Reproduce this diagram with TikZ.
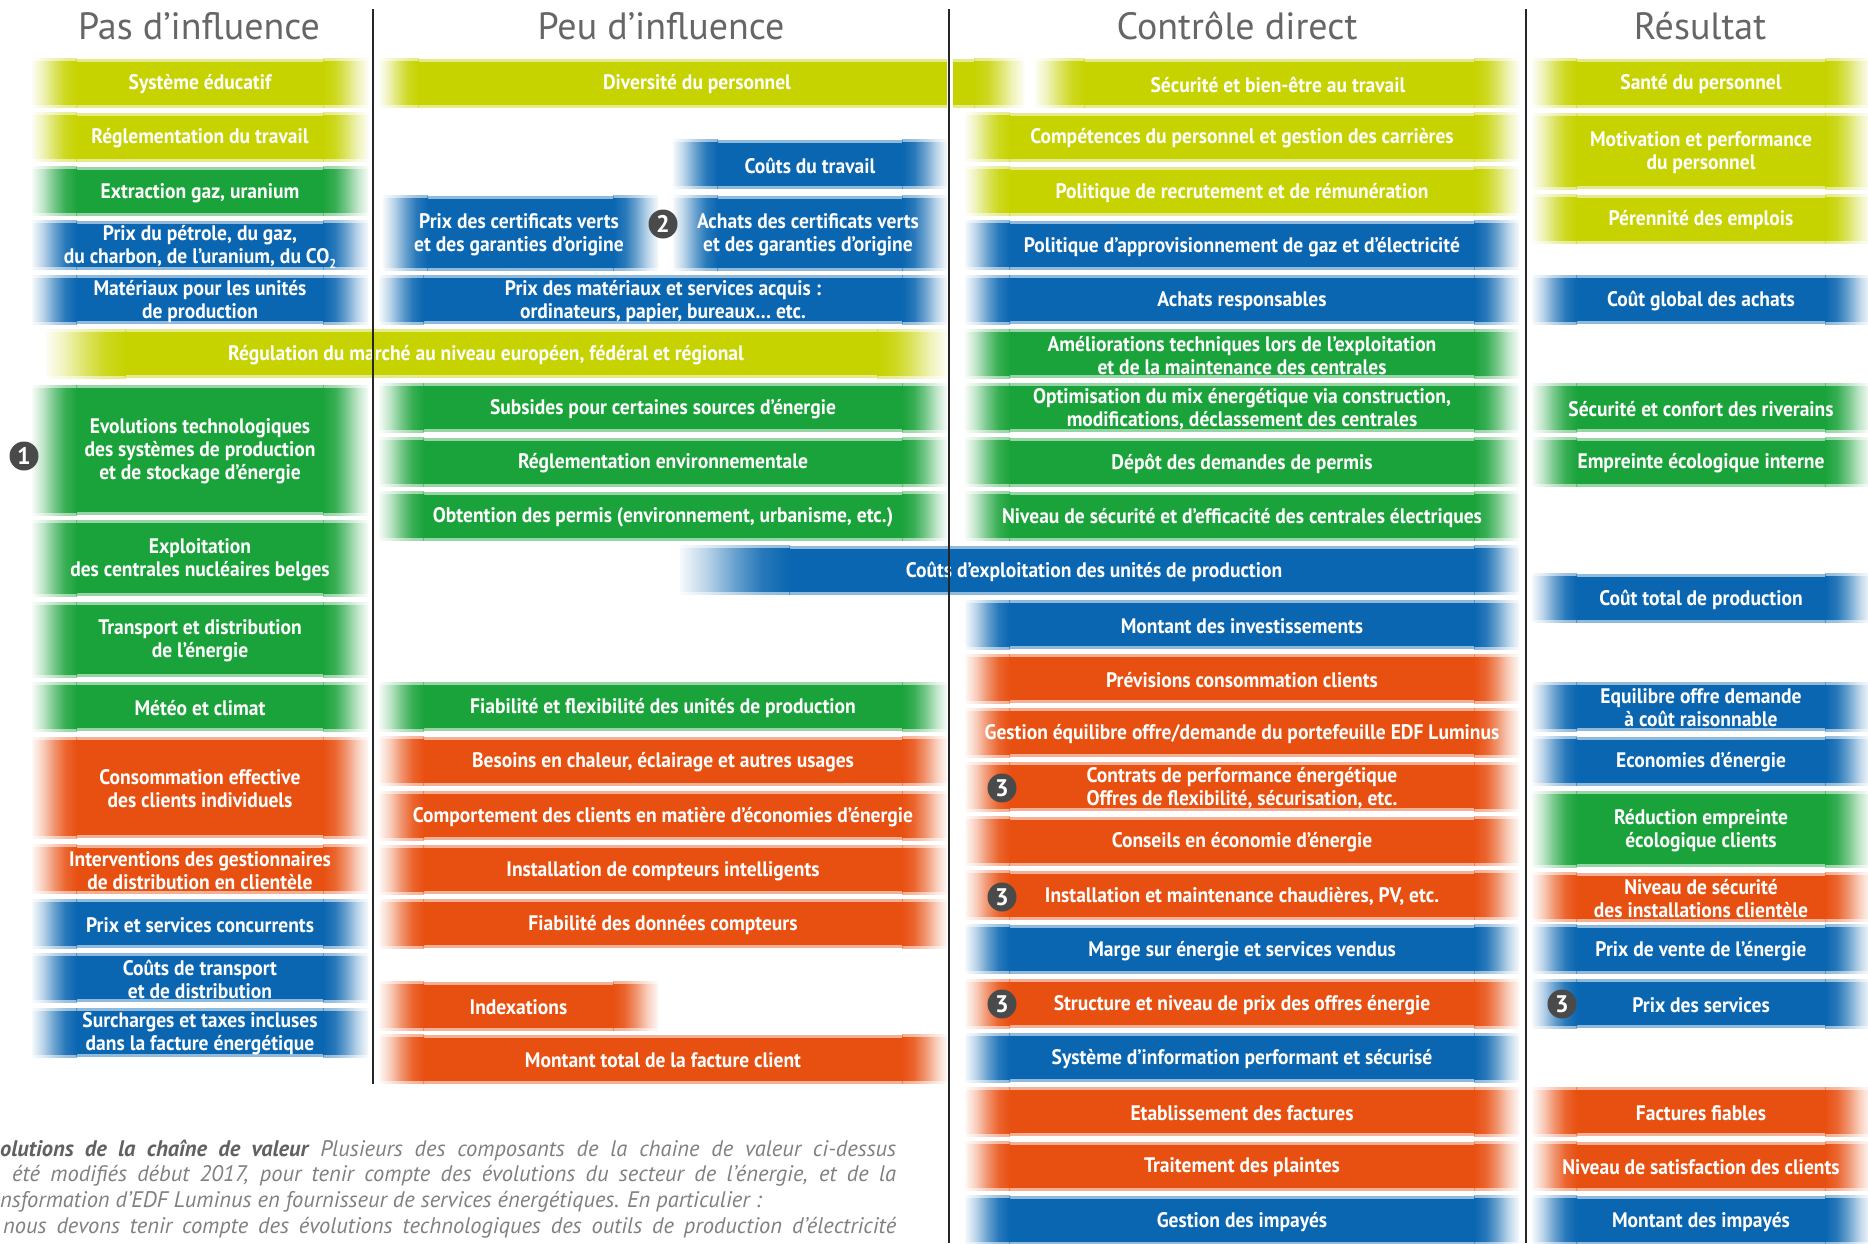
\documentclass[tikz,border=0pt]{standalone}
\usepackage{fontspec}
\setmainfont{PT Sans}
\newfontfamily\barfont[FakeStretch=0.93]{PT Sans}
\newfontfamily\capfont{PT Sans}
\definecolor{yg}{HTML}{C6D300}
\definecolor{grn}{HTML}{1BA33B}
\definecolor{blu}{HTML}{0A66B0}
\definecolor{org}{HTML}{E85012}
\definecolor{bdg}{HTML}{4A4A4A}
\definecolor{hdrc}{HTML}{666666}
\definecolor{capc}{HTML}{808080}
\colorlet{barc}{blu}
\pgfdeclarehorizontalshading[barc]{fadeL}{100bp}{color(0bp)=(barc!4); color(25bp)=(barc!4); color(37bp)=(barc!28); color(50bp)=(barc!62); color(62bp)=(barc!88); color(75bp)=(barc); color(100bp)=(barc)}
\pgfdeclarehorizontalshading[barc]{fadeR}{100bp}{color(0bp)=(barc); color(25bp)=(barc); color(38bp)=(barc!88); color(50bp)=(barc!62); color(63bp)=(barc!28); color(75bp)=(barc!4); color(100bp)=(barc!4)}
\newcommand{\R}[1]{(83+54.15*#1)}
\newcommand{\barpieces}[7]{%
 \colorlet{barc}{#5}%
 \pgfmathsetmacro\xa{#1+#6}\pgfmathsetmacro\xb{#2-#7}%
 \fill[#5] ({\xa-0.6},{#3}) rectangle ({\xb+0.6},{#4});
 \ifdim #6pt>0pt \shade[shading=fadeL] ({#1},{#3}) rectangle ({\xa},{#4});\fi
 \ifdim #7pt>0pt \shade[shading=fadeR] ({\xb},{#3}) rectangle ({#2},{#4});\fi
}
\newcommand{\shbar}[7]{% x1 x2 yc h col fl fr
 \pgfmathsetmacro\ya{#3-#4/2}\pgfmathsetmacro\yb{#3+#4/2}%
 \begin{scope}[opacity=0.45]\barpieces{#1}{#2}{\ya}{\yb}{#5}{#6}{#7}\end{scope}
 \pgfmathsetmacro\yya{#3-#4/2+3}\pgfmathsetmacro\yyb{#3+#4/2-3}%
 \barpieces{#1}{#2}{\yya}{\yyb}{#5}{#6}{#7}
}
\newcommand{\sbar}[6]{% name x1 x2 yc col text
 \shbar{#2}{#3}{#4}{49}{#5}{45}{45}
 \node[lbl] (#1) at ({(#2+#3)/2},{#4}) {#6};}
\tikzset{
 lbl/.style={text=white, font=\barfont\bfseries\fontsize{21}{23}\selectfont, align=center, inner sep=0pt, yshift=-1.5pt},
 hdr/.style={text=hdrc, font=\fontsize{38}{40}\selectfont, inner sep=0pt},
 badge/.style={circle, fill=bdg, text=white, minimum size=29pt, inner sep=0pt, font=\bfseries\fontsize{24}{24}\selectfont},
 captxt/.style={text=capc, font=\capfont\itshape\fontsize{22.5}{24}\selectfont, inner sep=0pt, anchor=west},
 divider/.style={draw=black!85, line width=1.6pt}
}
\begin{document}
\begin{tikzpicture}[x=1pt,y=-1pt]
\useasboundingbox (0,0) rectangle (1868,1243);
\clip (0,0) rectangle (1868,1243);
\fill[white] (0,0) rectangle (1868,1243);
% headers
\node[hdr] (h1) at (199,26) {Pas d’influence};
\node[hdr] (h2) at (661,26) {Peu d’influence};
\node[hdr] (h3) at (1237,26) {Contrôle direct};
\node[hdr] (h4) at (1700,26) {Résultat};
% ---------- column 1
\sbar{a0}{32}{368}{\R{0}}{yg}{Système éducatif}
\sbar{a1}{32}{368}{\R{1}}{yg}{Réglementation du travail}
\sbar{a2}{32}{368}{\R{2}}{grn}{Extraction gaz, uranium}
\sbar{a3}{32}{368}{\R{3}}{blu}{Prix du pétrole, du gaz,\\du charbon, de l’uranium, du CO\raisebox{-0.4ex}{\fontsize{13}{13}\selectfont 2}}
\sbar{a4}{32}{368}{\R{4}}{blu}{Matériaux pour les unités\\de production}
\shbar{46}{947}{\R{5}}{49}{yg}{80}{70}
\node[lbl] (a5) at (486,{\R{5}}) {Régulation du marché au niveau européen, fédéral et régional};
\shbar{32}{368}{450}{130}{grn}{45}{45}
\node[lbl] (a6) at (200,450) {Evolutions technologiques\\des systèmes de production\\et de stockage d’énergie};
\shbar{32}{368}{558}{76}{grn}{45}{45}
\node[lbl] (a7) at (200,558) {Exploitation\\des centrales nucléaires belges};
\shbar{32}{368}{639.5}{75}{grn}{45}{45}
\node[lbl] (a8) at (200,639.5) {Transport et distribution\\de l’énergie};
\sbar{a9}{32}{368}{706.5}{grn}{Météo et climat}
\shbar{32}{368}{787.5}{101}{org}{45}{45}
\node[lbl] (a10) at (200,787.5) {Consommation effective\\des clients individuels};
\sbar{a11}{32}{368}{869}{org}{Interventions des gestionnaires\\de distribution en clientèle}
\sbar{a12}{32}{368}{923.5}{blu}{Prix et services concurrents}
\sbar{a13}{32}{368}{977.5}{blu}{Coûts de transport\\et de distribution}
\sbar{a14}{32}{368}{1032.5}{blu}{Surcharges et taxes incluses\\dans la facture énergétique}
\node[badge] (n1) at (24,456) {1};
% ---------- column 2
\shbar{379}{946}{\R{0}}{49}{yg}{40}{0}
\shbar{954}{1024}{\R{0}}{49}{yg}{0}{50}
\node[lbl] (b0) at (697,{\R{0}}) {Diversité du personnel};
\sbar{b1}{673}{947}{164}{blu}{Coûts du travail}
\shbar{383}{658}{233}{75}{blu}{45}{45}
\node[lbl] (b2) at (519,233) {Prix des certificats verts\\et des garanties d’origine};
\shbar{673}{947}{233}{75}{blu}{45}{45}
\node[lbl] (b3) at (808,233) {Achats des certificats verts\\et des garanties d’origine};
\node[badge] (n2) at (663,224) {2};
\sbar{b4}{379}{947}{\R{4}}{blu}{Prix des matériaux et services acquis :\\ordinateurs, papier, bureaux… etc.}
\sbar{b6}{379}{947}{\R{6}}{grn}{Subsides pour certaines sources d’énergie}
\sbar{b7}{379}{947}{\R{7}}{grn}{Réglementation environnementale}
\sbar{b8}{379}{947}{\R{8}}{grn}{Obtention des permis (environnement, urbanisme, etc.)}
\shbar{680}{1519}{\R{9}}{49}{blu}{110}{45}
\node[lbl] (b9) at (1094,{\R{9}}) {Coûts d’exploitation des unités de production};
\sbar{b10}{379}{947}{706.5}{grn}{Fiabilité et flexibilité des unités de production}
\sbar{b11}{379}{947}{761}{org}{Besoins en chaleur, éclairage et autres usages}
\sbar{b12}{379}{947}{815.5}{org}{Comportement des clients en matière d’économies d’énergie}
\sbar{b13}{379}{947}{869.5}{org}{Installation de compteurs intelligents}
\sbar{b14}{379}{947}{923.5}{org}{Fiabilité des données compteurs}
\sbar{b15}{379}{658}{1006}{org}{Indexations}
\sbar{b16}{379}{947}{1059}{org}{Montant total de la facture client}
% ---------- column 3
\shbar{1035}{1519}{\R{0}}{49}{yg}{50}{45}
\node[lbl] (c0) at (1278,{\R{0}}) {Sécurité et bien-être au travail};
\sbar{c1}{965}{1519}{\R{1}}{yg}{Compétences du personnel et gestion des carrières}
\sbar{c2}{965}{1519}{\R{2}}{yg}{Politique de recrutement et de rémunération}
\sbar{c3}{965}{1519}{\R{3}}{blu}{Politique d’approvisionnement de gaz et d’électricité}
\sbar{c4}{965}{1519}{\R{4}}{blu}{Achats responsables}
\sbar{c5}{965}{1519}{\R{5}}{grn}{Améliorations techniques lors de l’exploitation\\et de la maintenance des centrales}
\sbar{c6}{965}{1519}{\R{6}}{grn}{Optimisation du mix énergétique via construction,\\modifications, déclassement des centrales}
\sbar{c7}{965}{1519}{\R{7}}{grn}{Dépôt des demandes de permis}
\sbar{c8}{965}{1519}{\R{8}}{grn}{Niveau de sécurité et d’efficacité des centrales électriques}
\sbar{c10}{965}{1519}{\R{10}}{blu}{Montant des investissements}
\sbar{c11}{965}{1519}{\R{11}}{org}{Prévisions consommation clients}
\sbar{c12}{965}{1519}{\R{12}}{org}{Gestion équilibre offre/demande du portefeuille EDF Luminus}
\sbar{c13}{965}{1519}{\R{13}}{org}{Contrats de performance énergétique\\Offres de flexibilité, sécurisation, etc.}
\sbar{c14}{965}{1519}{\R{14}}{org}{Conseils en économie d’énergie}
\sbar{c15}{965}{1519}{\R{15}}{org}{Installation et maintenance chaudières, PV, etc.}
\sbar{c16}{965}{1519}{\R{16}}{blu}{Marge sur énergie et services vendus}
\sbar{c17}{965}{1519}{\R{17}}{org}{Structure et niveau de prix des offres énergie}
\sbar{c18}{965}{1519}{\R{18}}{blu}{Système d’information performant et sécurisé}
\sbar{c19}{965}{1519}{\R{19}}{org}{Etablissement des factures}
\sbar{c20}{965}{1519}{\R{20}}{org}{Traitement des plaintes}
\sbar{c21}{965}{1519}{\R{21}}{blu}{Gestion des impayés}
\node[badge] (n3a) at (1002,788) {3};
\node[badge] (n3b) at (1002,897) {3};
\node[badge] (n3c) at (1002,1004) {3};
% ---------- column 4
\sbar{d0}{1532}{1870}{\R{0}}{yg}{Santé du personnel}
\shbar{1532}{1870}{151}{76}{yg}{45}{45}
\node[lbl] (d1) at (1701,151) {Motivation et performance\\du personnel};
\sbar{d2}{1532}{1870}{219}{yg}{Pérennité des emplois}
\sbar{d4}{1532}{1870}{\R{4}}{blu}{Coût global des achats}
\sbar{d6}{1532}{1870}{\R{6}}{grn}{Sécurité et confort des riverains}
\sbar{d7}{1532}{1870}{\R{7}}{grn}{Empreinte écologique interne}
\sbar{d9}{1532}{1870}{598}{blu}{Coût total de production}
\sbar{d10}{1532}{1870}{706.5}{blu}{Equilibre offre demande\\à coût raisonnable}
\sbar{d11}{1532}{1870}{761}{blu}{Economies d’énergie}
\shbar{1532}{1870}{829}{76}{grn}{45}{45}
\node[lbl] (d12) at (1701,829) {Réduction empreinte\\écologique clients};
\sbar{d13}{1532}{1870}{897}{org}{Niveau de sécurité\\des installations clientèle}
\sbar{d14}{1532}{1870}{\R{16}}{blu}{Prix de vente de l’énergie}
\sbar{d15}{1532}{1870}{\R{17}}{blu}{Prix des services}
\sbar{d16}{1532}{1870}{\R{19}}{org}{Factures fiables}
\sbar{d17}{1532}{1870}{\R{20}}{org}{Niveau de satisfaction des clients}
\sbar{d18}{1532}{1870}{\R{21}}{blu}{Montant des impayés}
\node[badge] (n3d) at (1562,1004) {3};
% ---------- dividers
\draw[divider] (373,9) -- (373,1084);
\draw[divider] (949,9) -- (949,1243);
\draw[divider] (1526,9) -- (1526,1243);
% ---------- caption
\node[captxt] (t1) at (0,1150) {\makebox[896pt][s]{{\bfseries\color{black!62}olutions de la chaîne de valeur} Plusieurs des composants de la chaine de valeur ci-dessus}};
\node[captxt] (t2) at (12,1176) {\makebox[884pt][s]{été modifiés début 2017, pour tenir compte des évolutions du secteur de l’énergie, et de la}};
\node[captxt] (t3) at (0,1202) {nsformation d’EDF Luminus en fournisseur de services énergétiques. En particulier :};
\node[captxt] (t4) at (3,1228) {\makebox[893pt][s]{nous devons tenir compte des évolutions technologiques des outils de production d’électricité}};
\end{tikzpicture}
\end{document}
